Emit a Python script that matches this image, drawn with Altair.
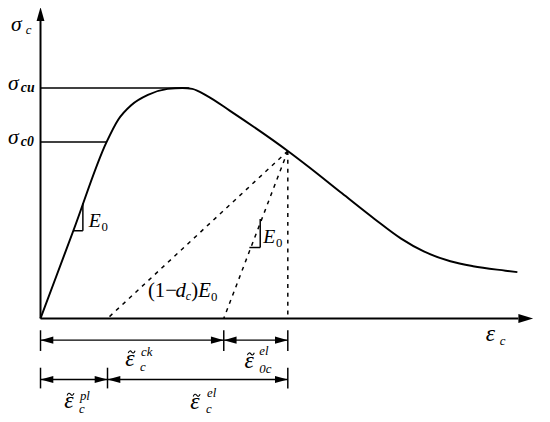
import altair as alt
import pandas as pd

# ---- stress-strain curve (strain unit / stress unit, origin at 0,0) ----
strain = [0.0, 0.335, 0.67, 0.79, 0.92, 1.09, 1.29, 1.44, 1.54, 1.69, 1.92, 2.51,
          2.72, 3.06, 3.39, 3.66, 3.89, 4.16, 4.39, 4.72, 4.84]
stress = [0.0, 0.895, 1.79, 2.02, 2.165, 2.27, 2.33, 2.34, 2.33, 2.26, 2.11, 1.70,
          1.54, 1.27, 1.01, 0.81, 0.68, 0.58, 0.53, 0.485, 0.47]

sigma_cu = 2.34
sigma_c0 = 1.79
eps_c0 = 0.67          # end of linear branch
eps_peak_line = 1.51   # where sigma_cu line stops
eps_unload = 2.51      # unloading point strain
sig_unload = 1.70      # unloading point stress
eps_pl = 0.68          # plastic strain (secant intercept)
eps_ck = 1.86          # cracking strain (E0 unloading intercept)

XD = [-0.33, 5.09]
YD = [-1.02, 3.12]
W, H = 542, 414

def xs():
    return alt.Scale(domain=XD, nice=False, zero=False)

def ys():
    return alt.Scale(domain=YD, nice=False, zero=False)

def X(f="x"):
    return alt.X(f"{f}:Q", scale=xs(), axis=None)

def Y(f="y"):
    return alt.Y(f"{f}:Q", scale=ys(), axis=None)

curve_df = pd.DataFrame({"x": strain, "y": stress, "o": list(range(len(strain)))})
curve = alt.Chart(curve_df).mark_line(interpolate="monotone", color="black", strokeWidth=2).encode(
    x=X(), y=Y(), order="o:Q")

# solid segments
row1_y, row2_y = -0.22, -0.62
segs = [
    (0, 0, 0, 3.02, 2.0),
    (0, 0, 4.85, 0, 2.0),
    (0, sigma_cu, eps_peak_line, sigma_cu, 1.5),
    (0, sigma_c0, eps_c0, sigma_c0, 1.5),
    (0.43, 1.17, 0.43, 0.89, 1.5),
    (0.33, 0.89, 0.43, 0.89, 1.5),
    (2.23, 1.01, 2.23, 0.72, 1.5),
    (2.12, 0.72, 2.23, 0.72, 1.5),
]
dims = [
    (0, eps_ck, row1_y),
    (eps_ck, eps_unload, row1_y),
    (0, eps_pl, row2_y),
    (eps_pl, eps_unload, row2_y),
]
for a, b, yy in dims:
    segs.append((a, yy, b, yy, 1.5))
for xx in [0, eps_ck, eps_unload]:
    segs.append((xx, row1_y + 0.10, xx, row1_y - 0.11, 1.5))
for xx in [0, eps_pl, eps_unload]:
    segs.append((xx, row2_y + 0.12, xx, row2_y - 0.09, 1.5))

seg_df = pd.DataFrame(segs, columns=["x", "y", "x2", "y2", "w"])
solid = alt.Chart(seg_df).mark_rule(color="black").encode(
    x=X(), y=Y(), x2="x2:Q", y2="y2:Q", strokeWidth=alt.StrokeWidth("w:Q", scale=None))

dash_df = pd.DataFrame([
    (eps_unload, sig_unload, eps_unload, 0),
    (eps_unload, sig_unload, eps_ck, 0),
    (eps_unload, sig_unload, eps_pl, 0),
], columns=["x", "y", "x2", "y2"])
dashed = alt.Chart(dash_df).mark_rule(color="black", strokeWidth=1.5, strokeDash=[4, 5]).encode(
    x=X(), y=Y(), x2="x2:Q", y2="y2:Q")

# arrow heads
UP = "M0,-1L-0.57,1L0.57,1Z"
RIGHT_AX = "M1,0L-1,-0.6L-1,0.6Z"
RIGHT = "M1,0L-1,-0.55L-1,0.55Z"
LEFT = "M-1,0L1,-0.55L1,0.55Z"
heads = [(0, 3.09, UP, 196), (4.925, 0, RIGHT_AX, 225)]
for a, b, yy in dims:
    heads.append((a + 0.065, yy, LEFT, 169))
    heads.append((b - 0.065, yy, RIGHT, 169))
head_df = pd.DataFrame(heads, columns=["x", "y", "shape", "size"])
arrows = alt.Chart(head_df).mark_point(filled=True, color="black", opacity=1, strokeWidth=0).encode(
    x=X(), y=Y(), shape=alt.Shape("shape:N", scale=None), size=alt.Size("size:Q", scale=None))

# tildes over the epsilons (drawn as small stroked symbols)
TILDE = "M-1,0.35C-0.7,-0.45 -0.3,-0.45 0,0C0.3,0.45 0.7,0.45 1,-0.35"
tilde_df = pd.DataFrame({
    "x": [0.925, 2.135, 1.585, 0.305],
    "y": [-0.34, -0.36, -0.78, -0.77],
})
tildes = alt.Chart(tilde_df).mark_point(shape=TILDE, size=49, filled=False, color="black",
                                        opacity=1, strokeWidth=1.1).encode(x=X(), y=Y())

# labels
italic_labels = [
    (-0.30, 2.92, "σ", 22), (-0.15, 2.89, "c", 13),
    (-0.33, 2.32, "σ", 22),
    (-0.33, 1.77, "σ", 22),
    (0.49, 0.93, "E", 20),
    (2.26, 0.77, "E", 20),
    (1.37, 0.22, "d", 21), (1.475, 0.19, "c", 12), (1.60, 0.22, "E", 21),
    # eps ck
    (0.86, -0.48, "ε", 24), (1.01, -0.53, "c", 13), (1.02, -0.38, "ck", 13),
    # eps 0c el
    (2.07, -0.50, "ε", 24), (2.22, -0.55, "0c", 13), (2.22, -0.37, "el", 13),
    # eps el
    (1.52, -0.92, "ε", 24), (1.68, -0.96, "c", 13), (1.69, -0.80, "el", 13),
    # eps pl
    (0.24, -0.91, "ε", 24), (0.39, -0.96, "c", 13), (0.40, -0.83, "pl", 13),
    # axis eps
    (4.52, -0.23, "ε", 24), (4.66, -0.27, "c", 13),
]
bold_labels = [
    (-0.20, 2.30, "cu", 14),
    (-0.20, 1.75, "c0", 14),
]
upright_labels = [
    (0.62, 0.89, "0", 13),
    (2.39, 0.73, "0", 13),
    (1.09, 0.22, "(1−", 21),
    (1.53, 0.22, ")", 21),
    (1.73, 0.18, "0", 13),
]

def text_layer(rows, **kw):
    df = pd.DataFrame(rows, columns=["x", "y", "t", "s"])
    return alt.Chart(df).mark_text(align="left", baseline="alphabetic", font="Liberation Serif",
                                   color="black", **kw).encode(
        x=X(), y=Y(), text="t:N", size=alt.Size("s:Q", scale=None))

t_it = text_layer(italic_labels, fontStyle="italic")
t_bold = text_layer(bold_labels, fontStyle="italic", fontWeight="bold")
t_up = text_layer(upright_labels)

chart = alt.layer(curve, solid, dashed, arrows, tildes, t_it, t_bold, t_up).properties(
    width=W, height=H, autosize=alt.AutoSizeParams(type="none"), padding=0,
    background="white"
).configure_view(stroke=None)

chart.save("out.html", embed_options={"renderer": "svg", "actions": False})
